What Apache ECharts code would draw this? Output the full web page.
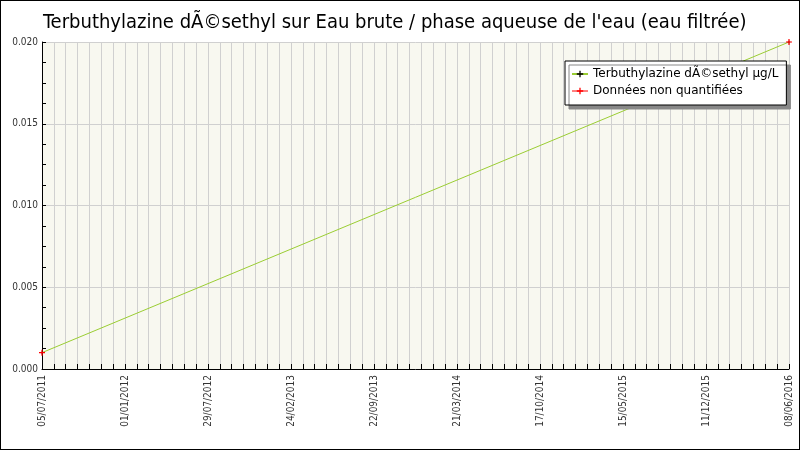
<!DOCTYPE html>
<html>
<head>
<meta charset="utf-8">
<title>Terbuthylazine</title>
<script src="https://cdn.jsdelivr.net/npm/echarts@6/dist/echarts.min.js"></script>
<style>
    html, body { margin: 0; padding: 0; background: #fff; }
    #main { width: 800px; height: 450px; box-sizing: border-box; border: 1px solid #000; }
</style>
</head>
<body>
<div id="main"></div>
<script>
    // libellés de l'axe des dates (un libellé tous les 7 traits)
    var dateLabels = ['05/07/2011', '01/01/2012', '29/07/2012', '24/02/2013', '22/09/2013',
        '21/03/2014', '17/10/2014', '15/05/2015', '11/12/2015', '08/06/2016'];
    // jours écoulés depuis le 05/07/2011
    var sampleDays = [0, 1800];
    // mesures en µg/L
    var sampleValues = [0.001, 0.020];
    // points non quantifiés
    var nqDays = [0, 1800];
    var nqValues = [0.001, 0.020];

    var spanDays = 1800;
    var ticksPerLabel = 7;

    var font = '"DejaVu Sans Condensed", "DejaVu Sans", sans-serif';
    var plus = 'path://M2,0H3V2H5V3H3V5H2V3H0V2H2Z';

    function pairs(xs, ys) {
        var out = [];
        for (var i = 0; i < xs.length; i++) {
            out.push([xs[i], ys[i]]);
        }
        return out;
    }

    // un trait tous les 1/7 d'intervalle, libellé seulement sur les traits principaux
    var tickSlots = [];
    for (var i = 0; i < dateLabels.length; i++) {
        tickSlots.push(dateLabels[i]);
        if (i < dateLabels.length - 1) {
            for (var j = 1; j < ticksPerLabel; j++) {
                tickSlots.push('');
            }
        }
    }

    var chart = echarts.init(document.getElementById('main'));
    var option = {
        animation: false,
        title: {
            text: "Terbuthylazine dÃ©sethyl sur Eau brute / phase aqueuse de l'eau (eau filtrée)",
            left: 37,
            top: 7,
            textStyle: { fontFamily: font, fontSize: 20, fontWeight: 'normal', color: '#000' }
        },
        legend: {
            orient: 'vertical',
            left: 564,
            top: 60,
            padding: [7, 8, 8, 6],
            itemGap: 5,
            itemWidth: 16,
            itemHeight: 8,
            backgroundColor: '#fff',
            borderColor: '#000',
            borderWidth: 1,
            borderRadius: 0,
            shadowColor: '#888',
            shadowBlur: 0,
            shadowOffsetX: 4,
            shadowOffsetY: 4,
            textStyle: { fontFamily: '"DejaVu Sans", sans-serif', fontSize: 12, color: '#000' },
            data: [
                { name: 'Terbuthylazine dÃ©sethyl µg/L' },
                { name: 'Données non quantifiées', lineStyle: { opacity: 1, width: 1, color: '#ff0000' } }
            ]
        },
        grid: {
            left: 41, right: 10, top: 41, bottom: 80,
            outerBoundsMode: 'none',
            show: true, backgroundColor: '#f8f8f0', borderWidth: 0
        },
        xAxis: [
            {
                // axe des jours pour placer les points
                type: 'value',
                min: 0,
                max: spanDays,
                show: false
            },
            {
                // axe d'affichage : traits, grille et dates
                type: 'category',
                data: tickSlots,
                boundaryGap: false,
                position: 'bottom',
                axisLine: { lineStyle: { color: '#000', width: 1 } },
                axisTick: { inside: true, length: 5, interval: 0, lineStyle: { color: '#000' } },
                splitLine: { show: true, interval: 0, lineStyle: { color: '#d0d0d0', width: 1 } },
                axisLabel: {
                    interval: 0,
                    rotate: 90,
                    fontFamily: font,
                    fontSize: 10,
                    color: '#333',
                    margin: 6
                }
            }
        ],
        yAxis: {
            type: 'value',
            min: 0,
            max: 0.020,
            interval: 0.005,
            name: 'Terbuthylazine dÃ©sethyl µg/L',
            nameLocation: 'middle',
            nameGap: 27,
            nameTextStyle: { fontFamily: '"DejaVu Sans", sans-serif', fontSize: 12, color: '#000' },
            axisLine: { show: true, lineStyle: { color: '#000', width: 1 } },
            axisTick: { show: true, inside: true, length: 4, lineStyle: { color: '#000' } },
            minorTick: { show: true, splitNumber: 4, length: 4, lineStyle: { color: '#000' } },
            splitLine: { show: true, lineStyle: { color: '#d0d0d0', width: 1 } },
            axisLabel: {
                fontFamily: font,
                fontSize: 10,
                color: '#333',
                margin: 4,
                formatter: function (v) { return v.toFixed(3); }
            }
        },
        series: [
            {
                name: 'Terbuthylazine dÃ©sethyl µg/L',
                type: 'line',
                xAxisIndex: 0,
                data: pairs(sampleDays, sampleValues),
                symbol: plus,
                symbolSize: 3,
                itemStyle: { color: '#000' },
                lineStyle: { color: '#9acd32', width: 1 },
                z: 2
            },
            {
                name: 'Données non quantifiées',
                type: 'line',
                xAxisIndex: 0,
                data: pairs(nqDays, nqValues),
                symbol: plus,
                symbolSize: 6,
                itemStyle: { color: '#ff0000' },
                lineStyle: { opacity: 0 },
                clip: false,
                z: 3
            }
        ]
    };
    chart.setOption(option);
</script>
</body>
</html>
